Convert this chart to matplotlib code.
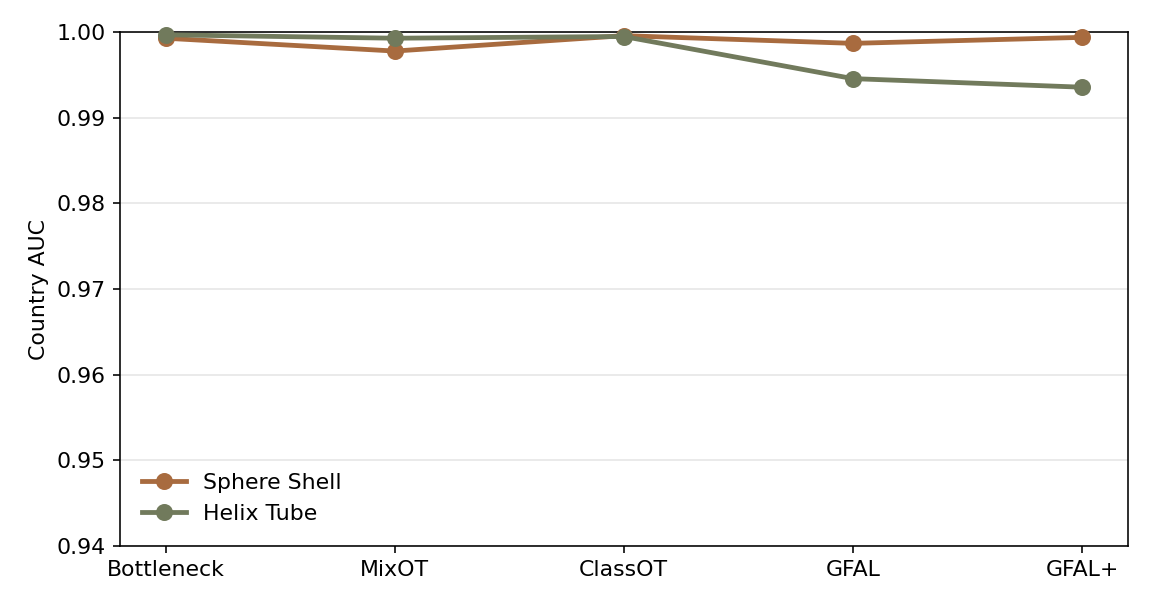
import matplotlib
matplotlib.use("Agg")
import matplotlib.pyplot as plt

methods = ["Bottleneck", "MixOT", "ClassOT", "GFAL", "GFAL+"]
sphere_shell = [0.9993, 0.9978, 0.9996, 0.9987, 0.9994]
helix_tube = [0.9997, 0.9993, 0.9995, 0.99458, 0.99358]

fig = plt.figure(figsize=(8, 608 / 144), dpi=144)
ax = fig.add_axes([0.104, 0.102, 0.875, 0.845])

x = range(len(methods))
ax.plot(x, sphere_shell, color="#a86b3f", lw=2.4, marker="o", ms=7.5, label="Sphere Shell", clip_on=False, zorder=3)
ax.plot(x, helix_tube, color="#717a5c", lw=2.4, marker="o", ms=7.5, label="Helix Tube", clip_on=False, zorder=3)

ax.set_xticks(list(x))
ax.set_xticklabels(methods, fontsize=11)
ax.set_ylim(0.94, 1.0)
ax.set_yticks([0.94, 0.95, 0.96, 0.97, 0.98, 0.99, 1.00])
ax.set_yticklabels(["%.2f" % v for v in ax.get_yticks()])
ax.tick_params(axis="y", labelsize=11)
ax.set_xlim(-0.2, 4.2)
ax.set_ylabel("Country AUC", fontsize=11)
ax.yaxis.grid(True, color="#e6e6e6", lw=0.8)
ax.set_axisbelow(True)
ax.legend(loc="lower left", frameon=False, fontsize=11, borderaxespad=0.6)

fig.savefig("out.png", dpi=144)
